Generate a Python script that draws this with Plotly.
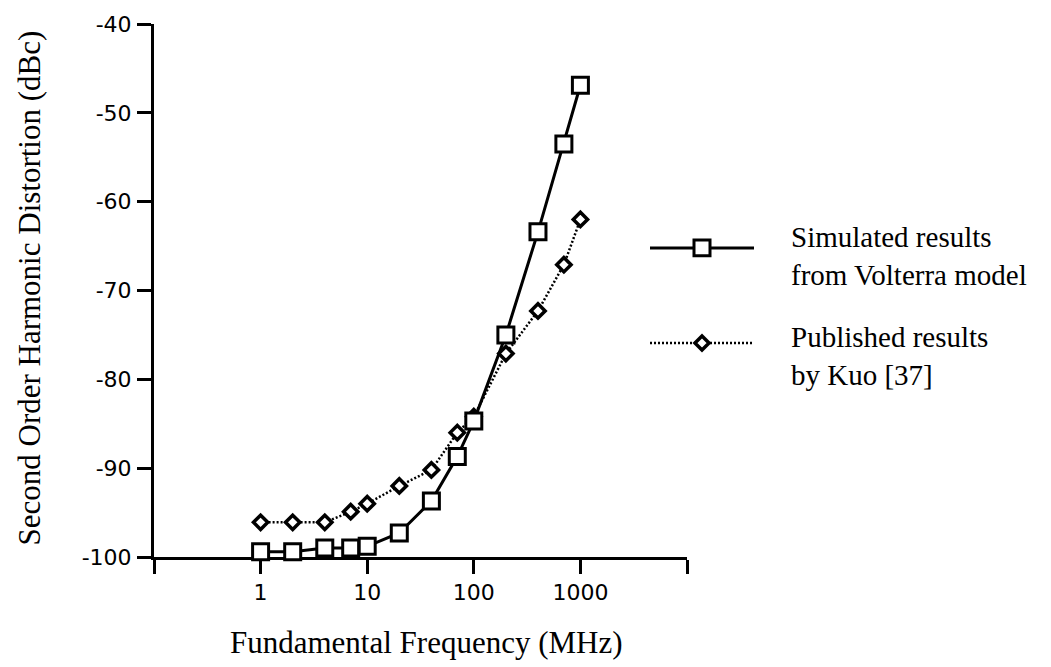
import plotly.graph_objects as go

# ---- data ----
freq_mhz = [1, 2, 4, 7, 10, 20, 40, 70, 100, 200, 400, 700, 1000]
sim_dbc = [-99.4, -99.4, -99.0, -99.0, -98.8, -97.3, -93.7, -88.7, -84.7, -75.0, -63.4, -53.5, -46.9]
kuo_dbc = [-96.1, -96.1, -96.1, -94.9, -94.0, -92.0, -90.2, -86.0, -84.2, -77.1, -72.3, -67.1, -62.0]

x_tickvals = [0.1, 1, 10, 100, 1000, 10000]
x_ticktext = ["", "1", "10", "100", "1000", ""]
y_tickvals = [-100, -90, -80, -70, -60, -50, -40]
y_ticktext = ["-100", "-90", "-80", "-70", "-60", "-50", "-40"]

sim_name = ["Simulated results", "from Volterra model"]
kuo_name = ["Published results", "by Kuo [37]"]
x_title = "Fundamental Frequency (MHz)"
y_title = "Second Order Harmonic Distortion (dBc)"

# ---- layout geometry (pixels) ----
W, H = 1051, 667
L, R, T, B = 154, 687, 19, 557
PW, PH = R - L, B - T


def px(x):
    return (x - L) / PW


def py(y):
    return (B - y) / PH


SERIF = "Liberation Serif, Times New Roman, serif"
SANS = "DejaVu Sans, Arial, sans-serif"

fig = go.Figure()
fig.add_trace(go.Scatter(
    x=freq_mhz, y=kuo_dbc, mode="lines+markers", cliponaxis=False,
    line=dict(color="black", width=2.5, dash="2px,2px"),
    marker=dict(symbol="diamond", size=11, color="white",
                line=dict(color="black", width=3.5)),
    showlegend=False,
))
fig.add_trace(go.Scatter(
    x=freq_mhz, y=sim_dbc, mode="lines+markers", cliponaxis=False,
    line=dict(color="black", width=3),
    marker=dict(symbol="square", size=16, color="white",
                line=dict(color="black", width=3)),
    showlegend=False,
))

shapes = []
# legend sample: solid line with square
shapes.append(dict(type="line", xref="paper", yref="paper",
                   x0=px(650), x1=px(754), y0=py(245), y1=py(245),
                   line=dict(color="black", width=3)))
shapes.append(dict(type="rect", xref="paper", yref="paper",
                   x0=px(702 - 8), x1=px(702 + 8), y0=py(245 - 8), y1=py(245 + 8),
                   fillcolor="white", line=dict(color="black", width=3)))
# legend sample: dotted line with diamond
shapes.append(dict(type="line", xref="paper", yref="paper",
                   x0=px(650), x1=px(754), y0=py(341), y1=py(341),
                   line=dict(color="black", width=2.5, dash="2px,2px")))
dx, dy, cx, cy = 7, 7, 702, 341
shapes.append(dict(type="path", xref="paper", yref="paper",
                   path=(f"M {px(cx - dx)} {py(cy)} L {px(cx)} {py(cy - dy)} "
                         f"L {px(cx + dx)} {py(cy)} L {px(cx)} {py(cy + dy)} Z"),
                   fillcolor="white", line=dict(color="black", width=3.5)))

annotations = []
for lines, yc in [(sim_name, 253), (kuo_name, 354)]:
    annotations.append(dict(text="<br>".join(lines), xref="paper", yref="paper",
                            x=px(789), y=py(yc), xanchor="left", yanchor="middle",
                            align="left", showarrow=False,
                            font=dict(family=SERIF, size=29, color="black")))
annotations.append(dict(text=x_title, xref="paper", yref="paper", x=px(426), y=py(643),
                        xanchor="center", yanchor="middle", showarrow=False,
                        font=dict(family=SERIF, size=31, color="black")))
annotations.append(dict(text=y_title, xref="paper", yref="paper", x=px(30), y=py(286),
                        xanchor="center", yanchor="middle", showarrow=False, textangle=-90,
                        font=dict(family=SERIF, size=31, color="black")))

fig.update_layout(
    width=W, height=H,
    margin=dict(l=L, r=W - R, t=T, b=H - B),
    paper_bgcolor="white", plot_bgcolor="white",
    shapes=shapes, annotations=annotations,
    showlegend=False,
    xaxis=dict(type="log", range=[-1, 4], tickvals=x_tickvals, ticktext=x_ticktext,
               showgrid=False, zeroline=False, showline=True, linecolor="black", linewidth=3,
               ticks="outside", ticklen=14, tickwidth=3, tickcolor="black",
               tickfont=dict(family=SANS, size=22, color="black"),
               ticklabelstandoff=0, layer="below traces"),
    yaxis=dict(range=[-100, -40], tickvals=y_tickvals, ticktext=y_ticktext,
               showgrid=False, zeroline=False, showline=True, linecolor="black", linewidth=3,
               ticks="outside", ticklen=14, tickwidth=3, tickcolor="black",
               tickfont=dict(family=SANS, size=22, color="black"),
               ticklabelstandoff=1, layer="below traces"),
)

fig.write_html("out.html")
